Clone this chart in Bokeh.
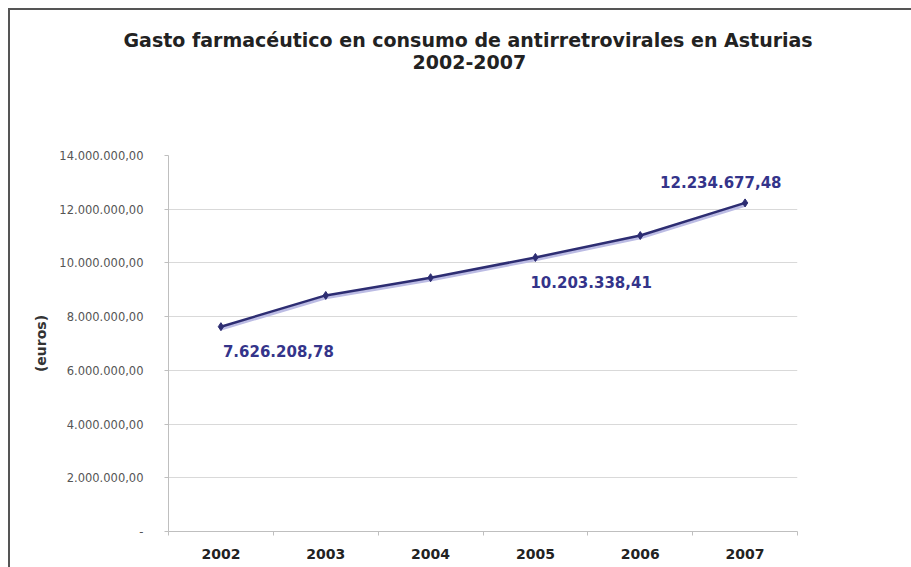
from bokeh.plotting import figure
from bokeh.models import ColumnDataSource, Range1d, FixedTicker, Label, Title, GlobalInlineStyleSheet
from bokeh.transform import dodge
from bokeh.embed import file_html
from bokeh.resources import INLINE

# ---- data ----
years = ["2002", "2003", "2004", "2005", "2006", "2007"]
gasto = [7626208.78, 8790000.0, 9450000.0, 10203338.41, 11020000.0, 12234677.48]
y_ticks = [0, 2000000, 4000000, 6000000, 8000000, 10000000, 12000000, 14000000]
y_tick_labels = ["-", "2.000.000,00", "4.000.000,00", "6.000.000,00", "8.000.000,00",
                 "10.000.000,00", "12.000.000,00", "14.000.000,00"]
labeled_points = [0, 3, 5]
title_lines = ["Gasto farmacéutico en consumo de antirretrovirales en Asturias", "2002-2007"]
y_axis_title = "(euros)"


def fmt_es(v):
    s = f"{v:,.2f}"
    return s.replace(",", "X").replace(".", ",").replace("X", ".")


xs = [i + 0.5 for i in range(len(years))]
src = ColumnDataSource(dict(x=xs, y=gasto))

NAVY = "#2d2d72"
LABEL_NAVY = "#34348a"
FONT = "DejaVu Sans"

p = figure(width=905, height=560, output_backend="svg", toolbar_location=None,
           x_range=Range1d(0, len(years)), y_range=Range1d(y_ticks[0], y_ticks[-1]),
           min_border_left=158, min_border_right=120, min_border_top=145,
           min_border_bottom=41)
p.styles = {"margin-left": "8px", "margin-top": "8px", "box-sizing": "content-box",
            "border-left": "2px solid #555555", "border-top": "2px solid #555555"}
p.stylesheets = [GlobalInlineStyleSheet(css="html, body { overflow: hidden; }")]
p.outline_line_color = None
p.background_fill_color = "white"
p.border_fill_color = "white"

# titles (spacer closest to the frame, then line 2, then line 1)
p.add_layout(Title(text=" ", text_font_size="76px", standoff=0), "above")
p.add_layout(Title(text=title_lines[1], align="left", offset=244, standoff=0,
                   text_font=FONT, text_font_style="bold", text_font_size="19px",
                   text_color="#222222"), "above")
p.add_layout(Title(text=title_lines[0], align="left", offset=-45, standoff=4,
                   text_font=FONT, text_font_style="bold", text_font_size="19px",
                   text_color="#222222"), "above")

# shadow + line + markers
p.line(x="x", y=dodge("y", -85000), source=src, line_color="#bcbce4", line_width=3)
p.line(x="x", y="y", source=src, line_color=NAVY, line_width=2.5)
p.scatter(x="x", y="y", source=src, marker="diamond", size=8, color=NAVY)

# axes
p.xgrid.visible = False
p.ygrid.grid_line_color = "#d9d9d9"

xa = p.xaxis[0]
xa.ticker = FixedTicker(ticks=xs, minor_ticks=list(range(len(years) + 1)))
xa.major_label_overrides = {x: y for x, y in zip(xs, years)}
xa.major_tick_out = 0
xa.major_tick_in = 0
xa.minor_tick_out = 4
xa.minor_tick_in = 0
xa.minor_tick_line_color = "#bfbfbf"
xa.axis_line_color = "#bfbfbf"
xa.major_label_standoff = 13
xa.major_label_text_font = FONT
xa.major_label_text_font_style = "bold"
xa.major_label_text_font_size = "14px"
xa.major_label_text_color = "#222222"

ya = p.yaxis[0]
ya.ticker = FixedTicker(ticks=y_ticks)
ya.major_label_overrides = {t: l for t, l in zip(y_ticks, y_tick_labels)}
ya.major_tick_out = 4
ya.major_tick_in = 0
ya.major_tick_line_color = "#bfbfbf"
ya.minor_tick_line_color = None
ya.axis_line_color = "#bfbfbf"
ya.major_label_standoff = 21
ya.major_label_text_font = FONT
ya.major_label_text_font_size = "11.5px"
ya.major_label_text_color = "#555555"
ya.axis_label = y_axis_title
ya.axis_label_standoff = 7
ya.axis_label_text_font = FONT
ya.axis_label_text_font_style = "bold"
ya.axis_label_text_font_size = "14px"
ya.axis_label_text_color = "#333333"

# value labels
offsets = {0: (2, -24), 3: (-5, -25), 5: (-85, 21)}
for i in labeled_points:
    dx, dy = offsets[i]
    p.add_layout(Label(x=xs[i], y=gasto[i], x_offset=dx, y_offset=dy, text=fmt_es(gasto[i]),
                       text_align="left", text_baseline="middle",
                       text_font=FONT, text_font_style="bold", text_font_size="15px",
                       text_color=LABEL_NAVY))

open("out.html", "w").write(file_html(p, INLINE))
